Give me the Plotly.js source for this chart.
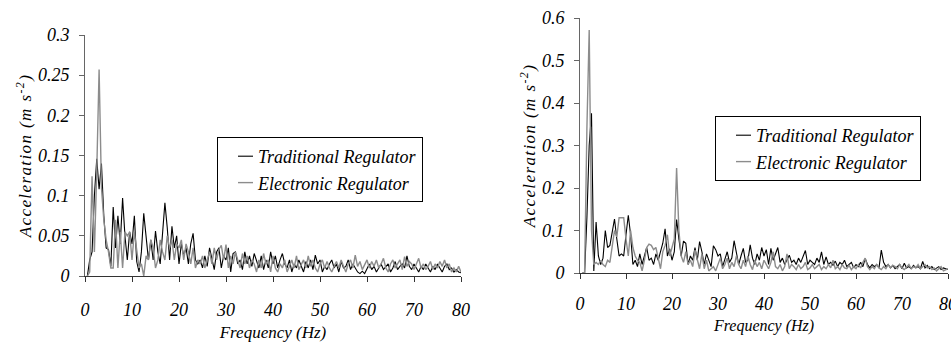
<!DOCTYPE html>
<html>
<head>
<meta charset="utf-8">
<script src="https://cdn.plot.ly/plotly-3.0.1.min.js"></script>
<style>
html,body{margin:0;padding:0;background:#fff;}
#chart{width:951px;height:343px;}
.g-ytitle text, .g-y2title text{letter-spacing:1.4px;}
</style>
</head>
<body>
<div id="chart"></div>
<script>
// Frequency grid (Hz)
const freq = [0.5,1,1.5,2,2.5,3,3.5,4,4.5,5,5.5,6,6.5,7,7.5,8,8.5,9,9.5,10,
10.5,11,11.5,12,12.5,13,13.5,14,14.5,15,15.5,16,16.5,17,17.5,18,18.5,19,19.5,20,
20.5,21,21.5,22,22.5,23,23.5,24,24.5,25,25.5,26,26.5,27,27.5,28,28.5,29,29.5,30,
30.5,31,31.5,32,32.5,33,33.5,34,34.5,35,35.5,36,36.5,37,37.5,38,38.5,39,39.5,40,
40.5,41,41.5,42,42.5,43,43.5,44,44.5,45,45.5,46,46.5,47,47.5,48,48.5,49,49.5,50,
50.5,51,51.5,52,52.5,53,53.5,54,54.5,55,55.5,56,56.5,57,57.5,58,58.5,59,59.5,60,
60.5,61,61.5,62,62.5,63,63.5,64,64.5,65,65.5,66,66.5,67,67.5,68,68.5,69,69.5,70,
70.5,71,71.5,72,72.5,73,73.5,74,74.5,75,75.5,76,76.5,77,77.5,78,78.5,79,79.5,80];

const seriesNames = ["Traditional Regulator", "Electronic Regulator"];

// Left panel
const tradLeft = [0,0.02,0.03,0.1,0.146,0.108,0.14,0.075,0.035,0.033,
0.012,0.086,0.035,0.075,0.04,0.097,0.05,0.02,0.055,0.04,
0.075,0.018,0.005,0.03,0.078,0.05,0.02,0.045,0.02,0.056,
0.03,0.015,0.06,0.091,0.06,0.02,0.062,0.035,0.05,0.015,
0.04,0.025,0.035,0.015,0.04,0.053,0.02,0.015,0.02,0.01,
0.025,0.012,0.035,0.02,0.008,0.03,0.035,0.01,0.025,0.02,
0.035,0.005,0.028,0.03,0.015,0.02,0.008,0.03,0.015,0.025,
0.012,0.028,0.02,0.01,0.025,0.008,0.02,0.01,0.03,0.015,
0.025,0.01,0.02,0.028,0.015,0.01,0.02,0.005,0.015,0.01,
0.02,0.012,0.005,0.018,0.01,0.02,0.008,0.026,0.015,0.02,
0.005,0.012,0.008,0.015,0.02,0.01,0.015,0.005,0.018,0.01,
0.012,0.02,0.008,0.015,0.01,0.005,0.003,0.006,0.003,0.01,
0.015,0.008,0.012,0.005,0.01,0.015,0.008,0.012,0.015,0.005,
0.01,0.018,0.008,0.012,0.015,0.01,0.025,0.012,0.008,0.015,
0.01,0.005,0.012,0.008,0.015,0.01,0.005,0.012,0.008,0.015,
0.01,0.005,0.012,0.015,0.008,0.01,0.005,0.008,0.005,0.004];

const elecLeft = [0,0.005,0.124,0.03,0.13,0.257,0.11,0.07,0.045,0.03,
0.01,0.01,0.07,0.01,0.055,0.01,0.055,0.05,0.055,0.02,
0.055,0.03,0.01,0.015,0,0.025,0.02,0.045,0.035,0.01,
0.02,0.045,0.03,0.02,0.05,0.035,0.045,0.02,0.04,0.035,
0.045,0.02,0.04,0.03,0.015,0.035,0.01,0.02,0.015,0.025,
0.01,0.02,0.03,0.015,0.035,0.02,0.033,0.038,0.02,0.039,
0.01,0.025,0.015,0.03,0.02,0.01,0.028,0.015,0.025,0.01,
0.02,0.015,0.005,0.02,0.01,0.028,0.015,0.02,0.005,0.025,
0.01,0.005,0.015,0.01,0.02,0.005,0.012,0.02,0.01,0.025,
0.008,0.015,0.02,0.01,0.025,0.012,0.02,0.01,0.005,0.015,
0.02,0.01,0.018,0.01,0.005,0.012,0.018,0.01,0.02,0.012,
0.005,0.015,0.02,0.01,0.026,0.012,0.018,0.008,0.015,0.02,
0.01,0.018,0.012,0.02,0.01,0.015,0.022,0.01,0.005,0.015,
0.02,0.01,0.015,0.02,0.008,0.024,0.012,0.018,0.015,0.008,
0.015,0.022,0.01,0.015,0.008,0.012,0.018,0.008,0.015,0.01,
0.018,0.012,0.02,0.01,0.015,0.005,0.01,0.005,0.012,0.005];

// Right panel
const tradRight = [0,0,0.13,0.3,0.376,0.005,0.12,0.04,0.02,0.035,
0.1,0.06,0.065,0.1,0.127,0.08,0.04,0.045,0.04,0.09,
0.136,0.09,0.02,0.03,0.015,0.045,0.02,0.04,0.06,0.03,
0.035,0.02,0.045,0.03,0.05,0.07,0.104,0.04,0.057,0.03,
0.05,0.126,0.08,0.04,0.075,0.07,0.02,0.04,0.03,0.06,
0.03,0.074,0.05,0.02,0.045,0.03,0.015,0.064,0.055,0.04,
0.045,0.015,0.03,0.05,0.025,0.035,0.076,0.045,0.02,0.04,
0.058,0.025,0.03,0.066,0.035,0.02,0.045,0.03,0.06,0.04,
0.055,0.02,0.058,0.03,0.045,0.06,0.025,0.035,0.02,0.03,
0.042,0.025,0.03,0.02,0.035,0.025,0.04,0.053,0.02,0.03,
0.025,0.02,0.035,0.025,0.05,0.02,0.038,0.02,0.025,0.018,
0.028,0.015,0.025,0.02,0.03,0.015,0.02,0.025,0.012,0.02,
0.015,0.025,0.015,0.034,0.02,0.012,0.02,0.015,0.02,0.012,
0.054,0.025,0.015,0.02,0.012,0.018,0.01,0.015,0.02,0.01,
0.023,0.012,0.015,0.01,0.018,0.012,0.015,0.01,0.027,0.012,
0.018,0.01,0.015,0.008,0.012,0.015,0.008,0.012,0.01,0.008];

const elecRight = [0,0,0.34,0.572,0.1,0.02,0.025,0.02,0.03,0.02,
0.015,0.03,0.025,0.06,0.1,0.085,0.13,0.13,0.13,0.08,
0.04,0.1,0.06,0.04,0.03,0.025,0.005,0.03,0.06,0.068,
0.065,0.055,0.06,0.035,0.01,0.05,0.065,0.09,0.04,0.06,
0.08,0.247,0.1,0.04,0.025,0.05,0.02,0.03,0.015,0.054,
0.03,0.01,0.045,0.01,0.03,0.005,0.01,0.015,0.005,0.02,
0.035,0.01,0.02,0.035,0.01,0.025,0.015,0.04,0.02,0.01,
0.03,0.015,0.04,0.02,0.008,0.03,0.015,0.025,0.01,0.03,
0.02,0.01,0.025,0.05,0.015,0.01,0.02,0.005,0.015,0.045,
0.01,0.02,0.015,0.008,0.02,0.01,0.015,0.025,0.008,0.012,
0.02,0.01,0.015,0.02,0.008,0.015,0.01,0.02,0.012,0.03,
0.01,0.015,0.008,0.02,0.012,0.01,0.018,0.008,0.015,0.01,
0.02,0.012,0.025,0.035,0.015,0.008,0.015,0.01,0.02,0.012,
0.008,0.015,0.01,0.02,0.012,0.018,0.015,0.01,0.02,0.012,
0.008,0.015,0.02,0.01,0.015,0.012,0.02,0.01,0.015,0.02,
0.012,0.015,0.008,0.012,0.005,0.01,0.015,0.005,0.008,0.01];

const tradColor = "#000000";
const elecColor = "#8c8c8c";

function serif(size) {
  return {family: "Liberation Serif", size: size, color: "#000", style: "italic"};
}

const traces = [
  {x: freq, y: tradLeft, name: seriesNames[0], type: "scatter", mode: "lines",
   line: {color: tradColor, width: 1.1}, xaxis: "x", yaxis: "y", legend: "legend", showlegend: true},
  {x: freq, y: elecLeft, name: seriesNames[1], type: "scatter", mode: "lines",
   line: {color: elecColor, width: 1.4}, xaxis: "x", yaxis: "y", legend: "legend", showlegend: true},
  {x: freq, y: tradRight, name: seriesNames[0], type: "scatter", mode: "lines",
   line: {color: tradColor, width: 1.1}, xaxis: "x2", yaxis: "y2", legend: "legend2", showlegend: true},
  {x: freq, y: elecRight, name: seriesNames[1], type: "scatter", mode: "lines",
   line: {color: elecColor, width: 1.4}, xaxis: "x2", yaxis: "y2", legend: "legend2", showlegend: true}
];

function xAxis(domain, anchor, titleSize, labelStandoff) {
  return {
    domain: domain, anchor: anchor, range: [0, 80], dtick: 10, tick0: 0,
    showgrid: false, zeroline: false, showline: true, linecolor: "#333", linewidth: 1,
    ticks: "outside", ticklen: 5, tickcolor: "#333", tickwidth: 1,
    tickfont: serif(18), ticklabelstandoff: labelStandoff, ticklabeloverflow: "allow",
    title: {text: "Frequency (Hz)", font: serif(titleSize), standoff: 7},
    automargin: false
  };
}
function yAxis(domain, anchor, range, dtick) {
  return {
    domain: domain, anchor: anchor, range: range, dtick: dtick, tick0: 0,
    showgrid: false, zeroline: false, showline: true, linecolor: "#666", linewidth: 1,
    ticks: "outside", ticklen: 5, tickcolor: "#666", tickwidth: 1,
    tickfont: serif(18), ticklabelstandoff: 6, ticklabeloverflow: "allow",
    title: {text: "Acceleration (m s<sup>-2</sup>)", font: serif(17), standoff: 1},
    automargin: false
  };
}

function legendAt(x, y) {
  return {
    x: x, y: y, xanchor: "left", yanchor: "top",
    bordercolor: "#000", borderwidth: 1, bgcolor: "rgba(255,255,255,0)",
    font: serif(18), traceorder: "normal", tracegroupgap: 0, itemwidth: 30
  };
}

const layout = {
  width: 951, height: 343,
  margin: {l: 0, r: 0, t: 0, b: 0},
  paper_bgcolor: "#fff", plot_bgcolor: "#fff",
  showlegend: true,
  xaxis: xAxis([85/951, 461/951], "y", 17, 12),
  yaxis: yAxis([(343-276)/343, (343-35)/343], "x", [0, 0.3], 0.05),
  xaxis2: xAxis([580/951, 948/951], "y2", 16, 9),
  yaxis2: yAxis([(343-273)/343, (343-18)/343], "x2", [0, 0.6], 0.1),
  legend: legendAt(217/951, 1 - 137/343),
  legend2: legendAt(715/951, 1 - 116/343)
};

Plotly.newPlot("chart", traces, layout, {displayModeBar: false}).then(function (gd) {
  // shorten legend line samples to match the short dashes of the reference
  gd.querySelectorAll(".legendlines path").forEach(function (p) {
    p.setAttribute("d", "M20,0h15");
  });
});
</script>
</body>
</html>
